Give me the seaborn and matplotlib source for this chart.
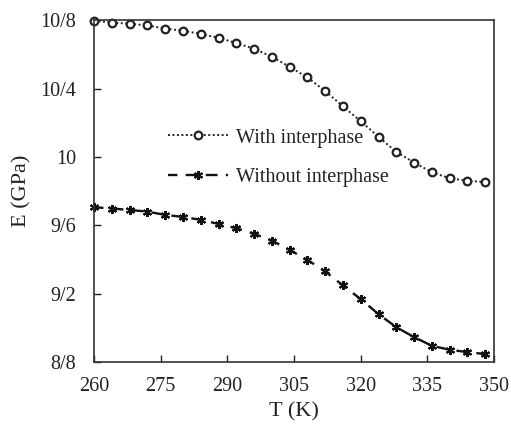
import matplotlib
matplotlib.use("Agg")
import matplotlib.pyplot as plt
import seaborn as sns
import pandas as pd

temperature = [260, 264, 268, 272, 276, 280, 284, 288, 292, 296, 300, 304,
               308, 312, 316, 320, 324, 328, 332, 336, 340, 344, 348]
with_interphase = [10.796, 10.786, 10.779, 10.769, 10.751, 10.738, 10.720, 10.697,
                   10.666, 10.633, 10.586, 10.527, 10.465, 10.385, 10.296, 10.208,
                   10.118, 10.029, 9.967, 9.910, 9.875, 9.861, 9.852]
without_interphase = [9.706, 9.698, 9.690, 9.680, 9.661, 9.649, 9.632, 9.608,
                      9.583, 9.550, 9.511, 9.456, 9.398, 9.330, 9.248, 9.168,
                      9.080, 9.004, 8.946, 8.895, 8.872, 8.858, 8.847]
x_ticks = [260, 275, 290, 305, 320, 335, 350]
y_ticks = [8.8, 9.2, 9.6, 10.0, 10.4, 10.8]
y_tick_labels = ["8/8", "9/2", "9/6", "10", "10/4", "10/8"]
series_names = ["With interphase", "Without interphase"]

sns.set_style("white")
plt.rcParams["font.family"] = ["Liberation Serif", "DejaVu Serif"]

fig = plt.figure(figsize=(5.11, 4.29), dpi=100)
ax = fig.add_axes([0.184, 0.156, 0.783, 0.797])

df1 = pd.DataFrame({"T": temperature, "E": with_interphase})
df2 = pd.DataFrame({"T": temperature, "E": without_interphase})

sns.lineplot(data=df1, x="T", y="E", ax=ax, color="#222222", lw=1.4,
             linestyle=(0, (1, 1.3)), marker="o", markersize=5.5,
             markerfacecolor="white", markeredgecolor="#222222",
             markeredgewidth=1.6, label=series_names[0], clip_on=False)
sns.lineplot(data=df2, x="T", y="E", ax=ax, color="#111111", lw=1.7,
             linestyle=(1, (5, 3.5)), marker=(6, 2, 0), markersize=6.5,
             markeredgewidth=1.5, markeredgecolor="#111111",
             label=series_names[1], clip_on=False)

ax.set_xlim(260, 350)
ax.set_ylim(8.8, 10.8)
ax.set_xticks(x_ticks)
ax.set_yticks(y_ticks)
ax.set_yticklabels(y_tick_labels)
ax.tick_params(axis="both", direction="in", length=5, width=1,
               labelsize=14.5, colors="#222222", bottom=True, left=True)
ax.tick_params(axis="x", pad=11)
ax.tick_params(axis="y", pad=13)
for s in ax.spines.values():
    s.set_color("#333333")
    s.set_linewidth(1.2)
ax.set_xlabel("T (K)", fontsize=16, color="#222222", labelpad=4)
ax.set_ylabel("E (GPa)", fontsize=16, color="#222222", labelpad=6)

leg = ax.legend(loc="center left", bbox_to_anchor=(0.185, 0.598), frameon=False,
                fontsize=14.5, handlelength=3.0, numpoints=1, labelspacing=1.0,
                handletextpad=0.35, borderaxespad=0, borderpad=0)
for t in leg.get_texts():
    t.set_color("#222222")

fig.savefig("out.png", dpi=100)
